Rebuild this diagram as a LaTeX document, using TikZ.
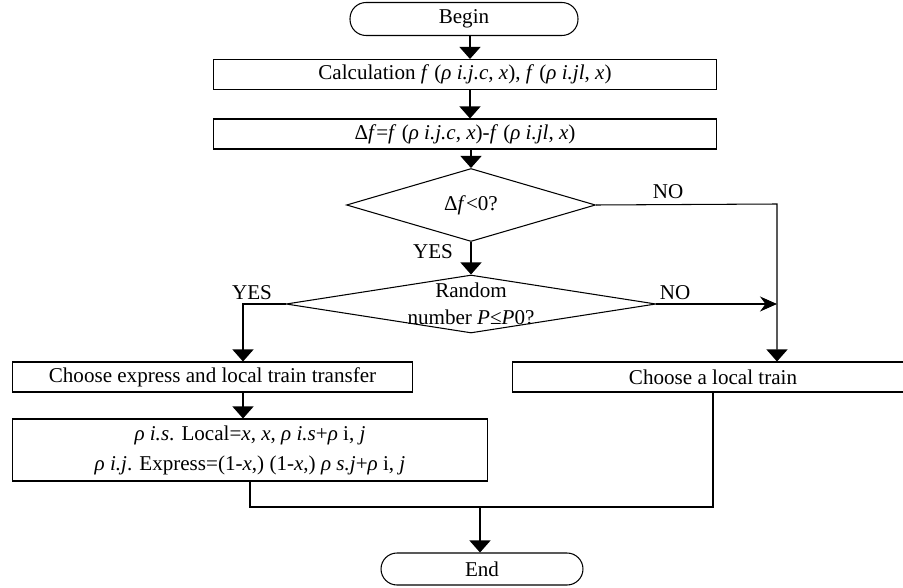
\documentclass[tikz,border=0pt]{standalone}
\usepackage{fontspec}
\setmainfont{Liberation Serif}
\usetikzlibrary{positioning,arrows.meta,shapes.geometric}
\tikzset{stepbox/.style = {draw,rectangle,inner sep=0pt,line width=0.6pt},
         endbox/.style = {draw,rectangle,rounded corners=0.32cm,inner sep=0pt,line width=0.6pt},
         choice/.style = {draw,diamond,inner sep=0pt,line width=0.6pt},
         flow/.style = {line width=0.6pt,-{Triangle[width=0.42cm,length=0.24cm]}},
         flowr/.style = {line width=0.6pt,-{Stealth[width=0.3cm,length=0.34cm]}},
         link/.style = {line width=0.6pt},
         tag/.style = {inner sep=0pt}}

\begin{document}
\begin{tikzpicture}[x=0.02cm,y=-0.02cm,font=\fontsize{12}{15}\selectfont]
    \useasboundingbox (0,0) rectangle (903,588);
    % blocks
    \node[endbox, minimum width=4.56cm, minimum height=0.66cm] (S) at (464,19) {Begin};
    \node[stepbox, minimum width=10.08cm, minimum height=0.6cm] (C) at (465,74.5)
        {Calculation \textit{f} (\textit{ρ i.j.c}, \textit{x}), \textit{f} (\textit{ρ i.jl}, \textit{x})};
    \node[stepbox, minimum width=10.08cm, minimum height=0.6cm] (D) at (465,134)
        {Δ\textit{f}=\textit{f} (\textit{ρ i.j.c}, \textit{x})-\textit{f} (\textit{ρ i.jl}, \textit{x})};
    \node[choice, minimum width=4.98cm, minimum height=1.14cm] (Q1) at (471,205) {Δ\textit{f}<0?};
    \node[choice, minimum width=7.4cm, minimum height=1.16cm,
          label={[align=center]center:Random\\number \textit{P}≤\textit{P}0?}] (Q2) at (471,304) {};
    \node[stepbox, minimum width=8.02cm, minimum height=0.6cm] (E) at (212.5,377) {Choose express and local train transfer};
    \node[stepbox, minimum width=8.04cm, minimum height=0.6cm] (L) at (713,377) {Choose a local train};
    \node[stepbox, minimum width=9.52cm, minimum height=1.24cm, align=center] (R) at (250,450)
        {\textit{ρ i.s}. Local=\textit{x}, \textit{x}, \textit{ρ i.s}+\textit{ρ} i, \textit{j}\\[2pt]
         \textit{ρ i.j}. Express=(1-\textit{x},) (1-\textit{x},) \textit{ρ s.j}+\textit{ρ} i, \textit{j}};
    \node[endbox, minimum width=4.04cm, minimum height=0.64cm] (T) at (482,569) {End};
    % bends
    \coordinate (ax) at (470,0);
    \coordinate (K) at (777,204);
    \coordinate (Y) at (243,304);
    \coordinate (M) at (480,507);
    % arrows
    \draw[flow] (ax |- S.south) -- (ax |- C.north);
    \draw[flow] (ax |- C.south) -- (ax |- D.north);
    \draw[flow] (Q1.north |- D.south) -- (Q1.north);
    \draw[flow] (Q1.south) -- (Q2.north);
    \draw[flow] (Q1.east) -- (K) -- (K |- L.north);
    \draw[flowr] (Q2.east) -- (Q2.east -| K);
    \draw[flow] (Q2.west) -- (Y) -- (Y |- E.north);
    \draw[flow] (Y |- E.south) -- (Y |- R.north);
    \draw[link] (R.south) |- (L.south |- M) -- (L.south);
    \draw[flow] (M) -- (M |- T.north);
    % labels
    \node[tag] (yes1) at (433,252) {YES};
    \node[tag] (no1) at (668,192) {NO};
    \node[tag] (yes2) at (252,293) {YES};
    \node[tag] (no2) at (675,293) {NO};
\end{tikzpicture}
\end{document}
